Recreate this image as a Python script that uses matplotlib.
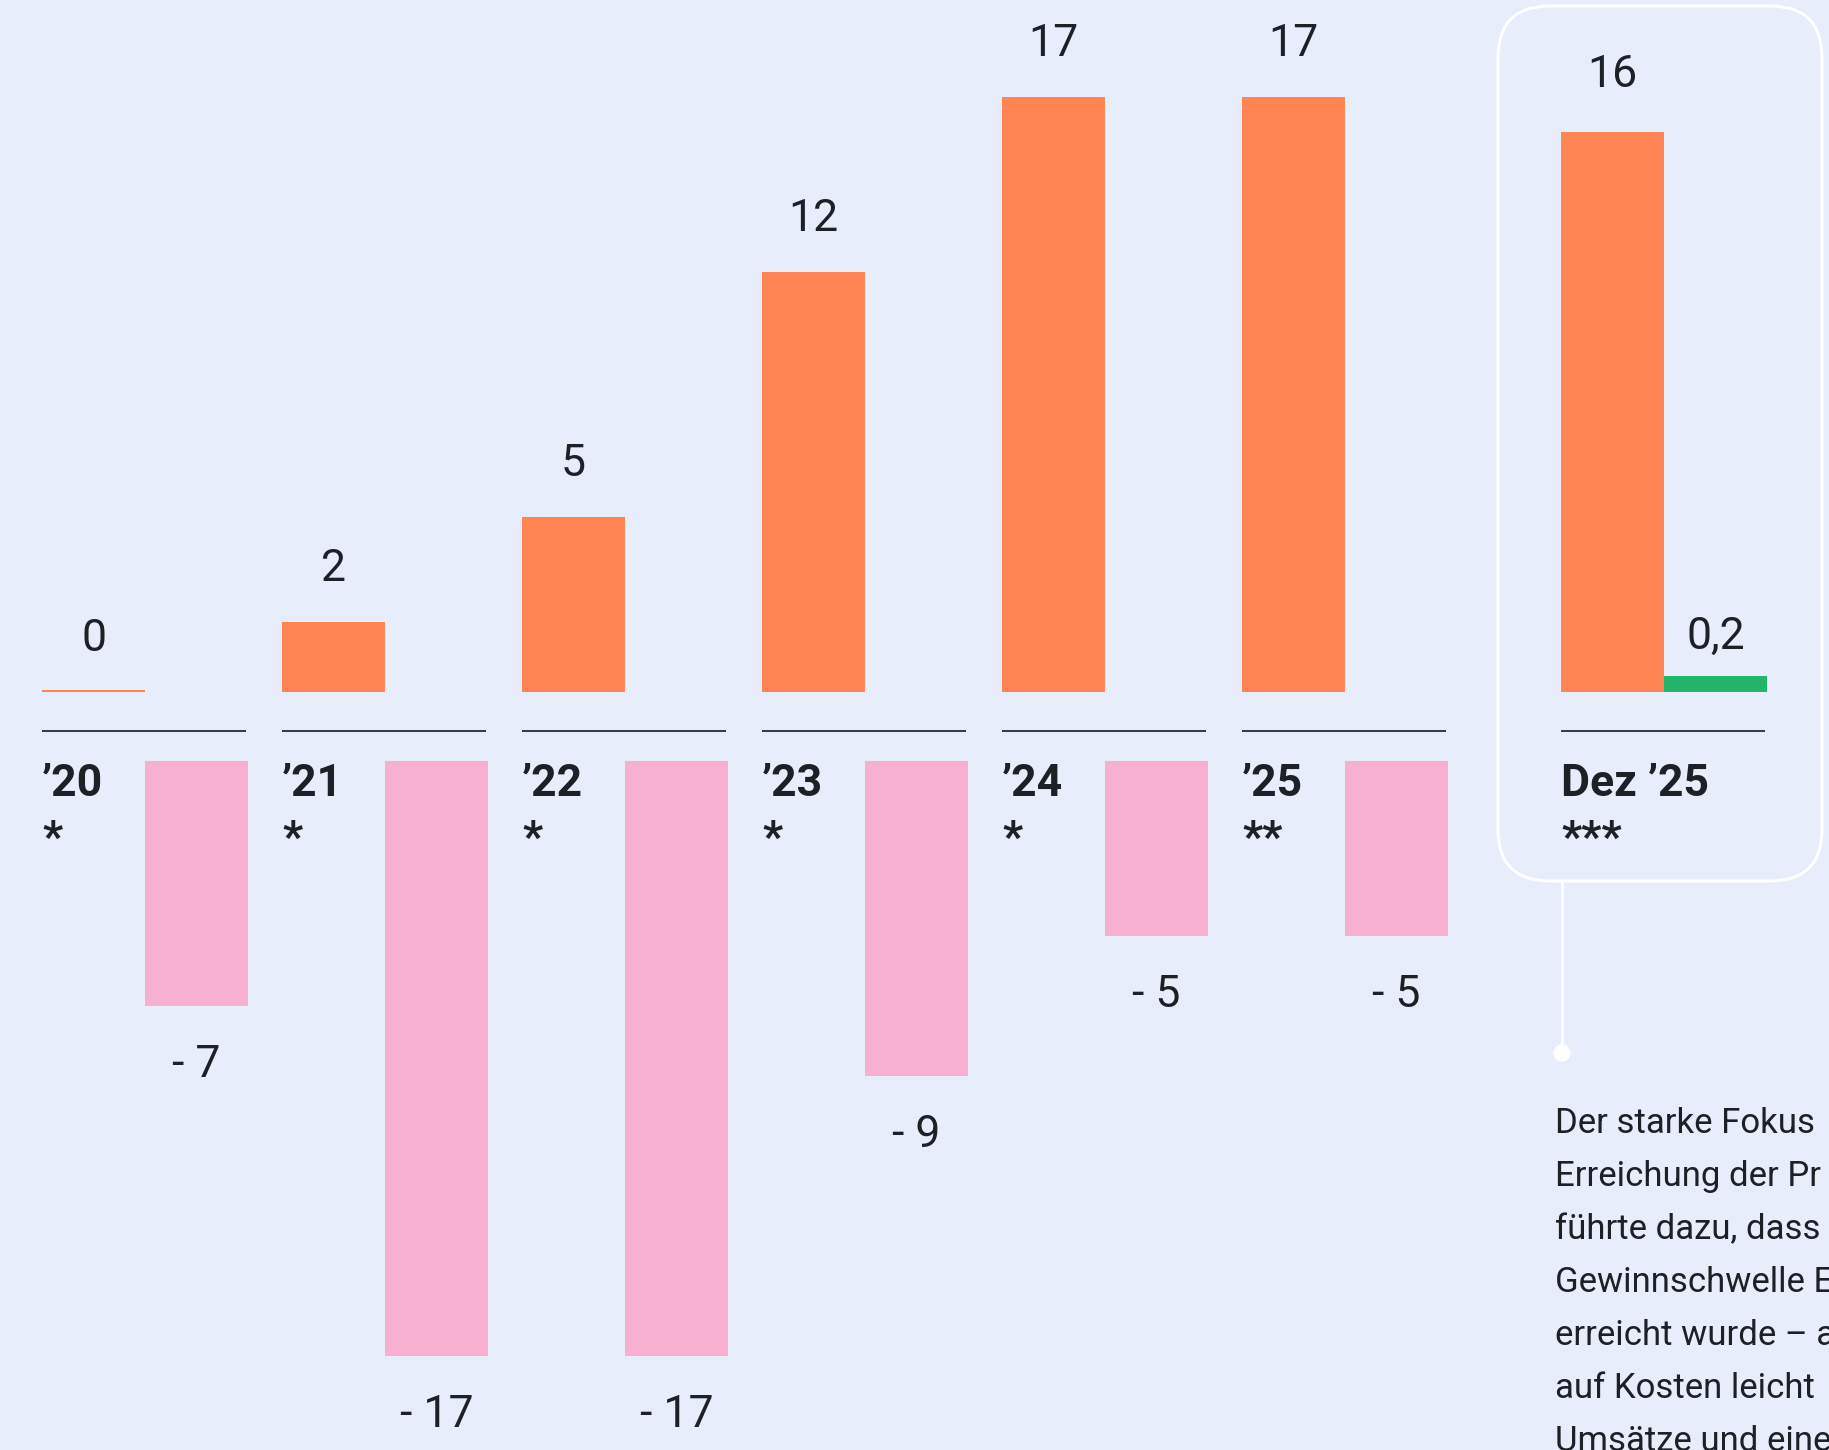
import matplotlib
matplotlib.use("Agg")
import matplotlib.pyplot as plt
from matplotlib.patches import FancyBboxPatch, Circle
from matplotlib.lines import Line2D
from matplotlib.transforms import IdentityTransform

# ---------------- data ----------------
years = ["’20", "’21", "’22", "’23", "’24", "’25"]
year_notes = ["*", "*", "*", "*", "*", "**"]
revenue = [0, 2, 5, 12, 17, 17]
result = [-7, -17, -17, -9, -5, -5]
dez_label = "Dez ’25"
dez_note = "***"
dez_revenue = 16
dez_result = 0.2
# paragraph as visible in the (cropped) reference
paragraph = [
    "Der starke Fokus",
    "Erreichung der Pr",
    "führte dazu, dass",
    "Gewinnschwelle E",
    "erreicht wurde – a",
    "auf Kosten leicht",
    "Umsätze und eine",
]

# ---------------- style / layout ----------------
BG = "#E7EDFA"
ORANGE = "#FF8555"
PINK = "#F7B0CF"
GREEN = "#22B46B"
TXT = "#1D2126"
SEP = "#3A3D45"
FONT = "Roboto"

W, H, DPI = 1829, 1450, 100
PX_PER_UNIT = 35.0
BASE_TOP = 692      # px from top: zero line of positive bars
NEG_TOP = 761       # px from top: start of negative bars
SEP_Y = 731         # px from top: separator line
GROUP_STEP = 240.0
X0 = 42
BAR_W = 103 / GROUP_STEP
DEZ_X = (1561 - X0) / GROUP_STEP
MIN_ORANGE = 0.06
MIN_GREEN = 0.46
PT = 72 / DPI       # px -> pt

fig = plt.figure(figsize=(W / DPI, H / DPI), dpi=DPI)
fig.patch.set_facecolor(BG)

ax_top = fig.add_axes([0, 1 - BASE_TOP / H, 1, BASE_TOP / H])
ax_bot = fig.add_axes([0, 0, 1, (H - NEG_TOP) / H])
xlim = (-X0 / GROUP_STEP, (W - X0) / GROUP_STEP)
for ax in (ax_top, ax_bot):
    ax.set_xlim(*xlim)
    ax.axis("off")
    ax.patch.set_alpha(0)
ax_top.set_ylim(0, BASE_TOP / PX_PER_UNIT)
ax_bot.set_ylim(-(H - NEG_TOP) / PX_PER_UNIT, 0)

xs = list(range(len(years)))

# positive bars
ax_top.bar(xs, [max(v, MIN_ORANGE) for v in revenue], width=BAR_W,
           align="edge", color=ORANGE, linewidth=0)
ax_top.bar([DEZ_X], [dez_revenue], width=BAR_W, align="edge", color=ORANGE, linewidth=0)
ax_top.bar([DEZ_X + BAR_W], [max(dez_result, MIN_GREEN)], width=BAR_W,
           align="edge", color=GREEN, linewidth=0)

# negative bars
ax_bot.bar([x + BAR_W for x in xs], result, width=BAR_W, align="edge",
           color=PINK, linewidth=0)

def fmt_pos(v):
    return str(v).replace(".", ",")

POS_OFF = 41 * PT
NEG_OFF = 71 * PT

for x, v in zip(xs, revenue):
    ax_top.annotate(fmt_pos(v), (x + BAR_W / 2, v), xytext=(0, POS_OFF),
                    textcoords="offset points", ha="center", va="baseline",
                    fontsize=32, family=FONT, color=TXT, annotation_clip=False)
ax_top.annotate(fmt_pos(dez_revenue), (DEZ_X + BAR_W / 2, dez_revenue),
                xytext=(0, POS_OFF + 4 * PT), textcoords="offset points",
                ha="center", va="baseline", fontsize=32, family=FONT, color=TXT,
                annotation_clip=False)
ax_top.annotate(fmt_pos(dez_result), (DEZ_X + 1.5 * BAR_W, dez_result),
                xytext=(0, POS_OFF - 5 * PT), textcoords="offset points",
                ha="center", va="baseline", fontsize=32, family=FONT, color=TXT,
                annotation_clip=False)

for x, v in zip(xs, result):
    ax_bot.annotate(f"- {abs(v)}", (x + 1.5 * BAR_W, v), xytext=(0, -NEG_OFF),
                    textcoords="offset points", ha="center", va="baseline",
                    fontsize=32, family=FONT, color=TXT, annotation_clip=False)

# separators and category labels (in bottom axes units)
sep_y = (NEG_TOP - SEP_Y) / PX_PER_UNIT
year_y = (NEG_TOP - 796) / PX_PER_UNIT
note_y = (NEG_TOP - 852) / PX_PER_UNIT
for x, lab, note in list(zip(xs, years, year_notes)) + [(DEZ_X, dez_label, dez_note)]:
    ax_bot.plot([x, x + 2 * BAR_W - 0.008], [sep_y, sep_y], color=SEP,
                lw=2 * PT, clip_on=False, solid_capstyle="butt")
    ax_bot.text(x, year_y, lab, ha="left", va="baseline", fontsize=32,
                fontweight="bold", family=FONT, color=TXT)
    ax_bot.text(x, note_y, note, ha="left", va="baseline", fontsize=32,
                fontweight="bold", family=FONT, color=TXT)

# highlight box + connector (pixel coordinates, origin bottom-left)
ident = IdentityTransform()
box = FancyBboxPatch((1498, H - 881), 1822 - 1498, 881 - 6,
                     boxstyle="round,pad=0,rounding_size=52",
                     transform=ident, facecolor="none", edgecolor="white",
                     linewidth=3 * PT)
fig.add_artist(box)
fig.add_artist(Line2D([1562, 1562], [H - 881, H - 1053], transform=ident,
                      color="white", linewidth=3 * PT))
fig.add_artist(Circle((1562, H - 1053), 8, transform=ident, color="white"))

# paragraph
for i, line in enumerate(paragraph):
    fig.text(1555 / W, 1 - (1133 + 53 * i) / H, line, ha="left", va="baseline",
             fontsize=25, family=FONT, color=TXT)

fig.savefig("out.png", dpi=DPI, facecolor=BG)
